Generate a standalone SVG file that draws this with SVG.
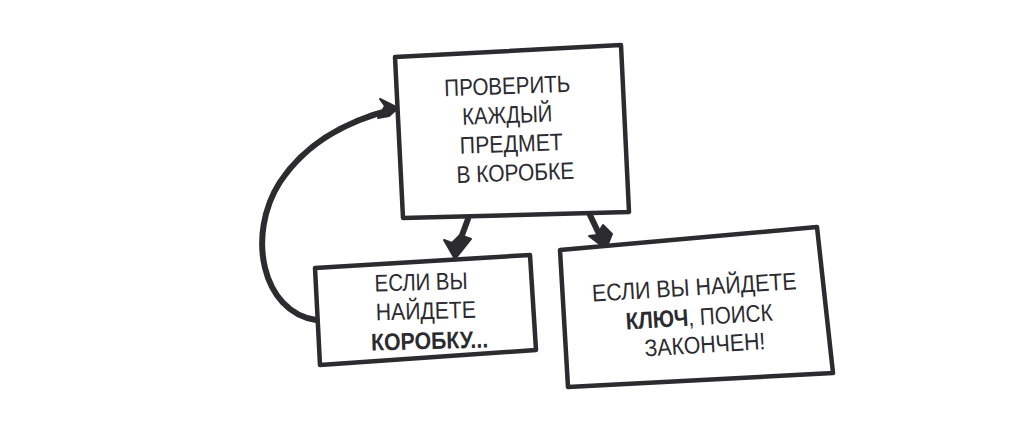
<svg xmlns="http://www.w3.org/2000/svg" width="1013" height="422" viewBox="0 0 1013 422">
<style>
.box{fill:#fff;stroke:#2b2b30;stroke-width:4.5;stroke-linejoin:round}
.t{font-family:"Liberation Sans",sans-serif;font-size:24px;fill:#2b2b30;text-anchor:middle}
.b{font-weight:bold}
.conn{fill:none;stroke:#2b2b30;stroke-width:6;stroke-linecap:round}
.head{fill:#2b2b30;stroke:#2b2b30;stroke-width:2;stroke-linejoin:round}
</style>
<rect width="1013" height="422" fill="#fff"/>
<g id="connectors">
<path class="conn" d="M316,320 C262,312 246,235 280,182 C308,140 350,120 394,109"/>
<path class="head" d="M398,108 L380,99 L385,106 L378,118 L389,116 Z"/>
<path class="conn" d="M468,219 L458,246"/>
<path class="head" d="M455,259 L444,240 L452,243 L460,235 L471,239 Z"/>
<path class="conn" d="M589,213 L601,238"/>
<path class="head" d="M606,249 L589,236 L597,235 L603,225 L612,234 Z"/>
</g>
<g id="node1">
<path class="box" d="M395,57 L621,45 L629,212 L403,218 Z"/>
<g transform="rotate(-2 510 135)">
<text class="t" x="509" y="94" textLength="126" lengthAdjust="spacingAndGlyphs">ПРОВЕРИТЬ</text>
<text class="t" x="508" y="123" textLength="90" lengthAdjust="spacingAndGlyphs">КАЖДЫЙ</text>
<text class="t" x="511" y="152" textLength="103" lengthAdjust="spacingAndGlyphs">ПРЕДМЕТ</text>
<text class="t" x="514" y="181" textLength="118" lengthAdjust="spacingAndGlyphs">В КОРОБКЕ</text>
</g>
</g>
<g id="node2">
<path class="box" d="M315,268 L530,255 L536,350 L320,365 Z"/>
<g transform="rotate(-1.5 428 318)">
<text class="t" x="422" y="290" textLength="93" lengthAdjust="spacingAndGlyphs">ЕСЛИ ВЫ</text>
<text class="t" x="426" y="319" textLength="100" lengthAdjust="spacingAndGlyphs">НАЙДЕТЕ</text>
<text class="t b" x="429" y="349" textLength="117" lengthAdjust="spacingAndGlyphs">КОРОБКУ...</text>
</g>
</g>
<g id="node3">
<path class="box" d="M560,250 L817,227 L833,373 L568,387 Z"/>
<g transform="rotate(-3.5 700 315)">
<text class="t" x="696" y="295" textLength="205" lengthAdjust="spacingAndGlyphs">ЕСЛИ ВЫ НАЙДЕТЕ</text>
<text class="t" x="699" y="325" textLength="147" lengthAdjust="spacingAndGlyphs"><tspan class="b">КЛЮЧ</tspan>, ПОИСК</text>
<text class="t" x="703" y="353" textLength="121" lengthAdjust="spacingAndGlyphs">ЗАКОНЧЕН!</text>
</g>
</g>
</svg>
